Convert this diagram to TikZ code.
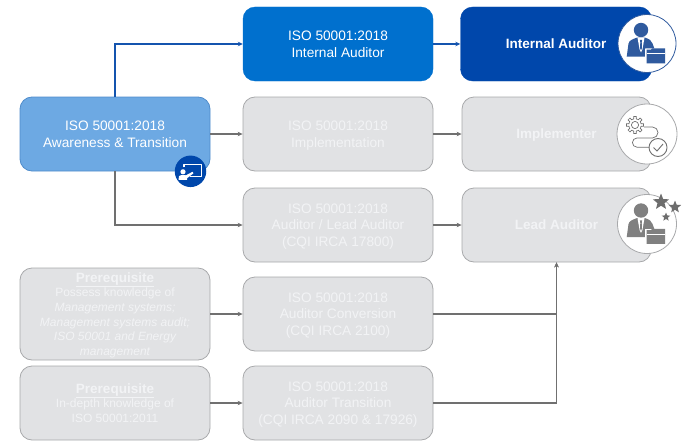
\documentclass[tikz,border=0pt]{standalone}
\usepackage{fontspec}
\setmainfont{Liberation Sans}
\usetikzlibrary{arrows.meta,shapes.geometric}
\definecolor{greyfill}{HTML}{E1E2E4}
\definecolor{greyedge}{HTML}{A8A9AB}
\definecolor{greytext}{HTML}{F2F3F5}
\definecolor{awfill}{HTML}{6DA9E3}
\definecolor{awedge}{HTML}{4F8CCB}
\definecolor{midblue}{HTML}{0070CE}
\definecolor{darkblue}{HTML}{0047AB}
\definecolor{iconblue}{HTML}{2F5A9E}
\definecolor{icongrey}{HTML}{808080}
\definecolor{linegrey}{HTML}{707070}
\definecolor{lineblue}{HTML}{1454AE}
\newcommand{\personicon}[1]{%
  \fill[#1] (-6,-13.5) circle[radius=7.2];
  \fill[#1] (-20.3,13.2) -- (-18.5,0) .. controls (-18,-3) and (-14,-4.5) .. (-10.3,-5.8)
     -- (-1.7,-5.8) .. controls (2,-4.5) and (5,-3) .. (5.5,0) -- (7.3,4.8) -- (-2,4.8) -- (-2,13.2) -- cycle;
  \fill[white] (-9.5,-5.8) -- (-2.5,-5.8) -- (-4.6,6) -- (-6,9) -- (-7.4,6) -- cycle;
  \fill[#1] (-7.1,-3.6) -- (-4.9,-3.6) -- (-5.3,-1) -- (-5,4.5) -- (-6,6.8) -- (-7,4.5) -- (-6.7,-1) -- cycle;
  \fill[#1] (-0.3,6.2) -- (4,6.2) -- (5,4.8) -- (18,4.8) -- (18,19.8) -- (-0.3,19.8) -- cycle;
  \draw[white,line width=0.9pt] (-0.3,10) -- (18,10);
  \draw[white,line width=0.9pt] (-1.3,5.2) -- (-1.3,20.5);
}
\tikzset{
  x=1pt,y=-1pt,
  basebox/.style={rectangle,rounded corners=12pt,minimum width=190pt,minimum height=74pt,inner sep=0pt,align=center,text depth=0pt,font=\fontsize{13.7}{16.6}\selectfont},
  greybox/.style={basebox,fill=greyfill,draw=greyedge,line width=0.8pt,text=greytext},
  roleg/.style={greybox,font=\bfseries\fontsize{13.5}{16}\selectfont},
  prereq/.style={greybox,font=\fontsize{12}{14.6}\selectfont},
  conn/.style={draw=linegrey,line width=1.1pt,-{Stealth[length=5pt,width=4.5pt]}},
  connb/.style={draw=lineblue,line width=1.2pt,-{Stealth[length=5pt,width=4.5pt]}},
  ring/.style={circle,fill=white,inner sep=0pt,line width=0.8pt},
  starmark/.style={star,star points=5,star point ratio=2.3,fill=icongrey!85!black,inner sep=0pt}
}
\newcommand{\prq}{{\bfseries\fontsize{13.5}{14.6}\selectfont\underline{Prerequisite}}}
\begin{document}
\begin{tikzpicture}
\useasboundingbox (0,0) rectangle (700,444);
% boxes
\node[basebox,fill=awfill,draw=awedge,line width=0.8pt,text=white] (aw) at (115,134) {ISO 50001:2018\\Awareness \& Transition};
\node[basebox,fill=midblue,draw=midblue,text=white] (ci) at (338,44) {ISO 50001:2018\\Internal Auditor};
\node[greybox] (cm) at (338,134) {ISO 50001:2018\\Implementation};
\node[greybox] (cl) at (338,225) {ISO 50001:2018\\Auditor / Lead Auditor\\(CQI IRCA 17800)};
\node[greybox] (cc) at (338,314) {ISO 50001:2018\\Auditor Conversion\\(CQI IRCA 2100)};
\node[greybox] (ct) at (338,403) {ISO 50001:2018\\Auditor Transition\\(CQI IRCA 2090 \& 17926)};
\node[prereq,minimum height=92pt] (p1) at (115,314) {\prq\\Possess knowledge of\\\itshape Management systems;\\\itshape Management systems audit;\\\itshape ISO 50001 and Energy\\\itshape management};
\node[prereq] (p2) at (115,403) {\prq\\In-depth knowledge of\\ISO 50001:2011};
\node[basebox,minimum width=191pt,fill=darkblue,draw=darkblue,text=white,font=\bfseries\fontsize{13.5}{16}\selectfont] (ri) at (556,44) {Internal Auditor};
\node[roleg,minimum width=189pt] (rm) at (556.5,134) {Implementer};
\node[roleg,minimum width=189pt] (rl) at (556.5,225) {Lead Auditor};
% connectors
\draw[connb] (aw.north) |- (ci.west);
\draw[conn] (aw.east) -- (cm.west);
\draw[conn] (aw.south) |- (cl.west);
\draw[connb] (ci.east) -- (ri.west);
\draw[conn] (cm.east) -- (rm.west);
\draw[conn] (cl.east) -- (rl.west);
\draw[conn] (p1.east) -- (cc.west);
\draw[conn] (p2.east) -- (ct.west);
\draw[conn] (cc.east) -| (rl.south);
\draw[conn] (ct.east) -| (rl.south);
% presentation badge
\node[circle,fill=darkblue,inner sep=0pt,minimum size=31.5pt] (badge) at (190.5,171.3) {};
\begin{scope}[shift={(badge.center)}]
  \draw[white,line width=1.2pt,line join=round] (-6.5,-4) -- (-6.5,-6.5) -- (11,-6.5) -- (11,5.5) -- (-0.5,5.5);
  \fill[white] (-7.5,0.5) circle[radius=2.6];
  \fill[white] (-12,8.5) -- (-11.5,5) .. controls (-11,3.5) and (-6,3.5) .. (-4.5,4) -- (2,0.5) -- (3,2) -- (-3.5,7) -- (-3.5,8.5) -- cycle;
\end{scope}
% role icons
\node[ring,draw=iconblue,minimum size=58pt] (c1) at (647,43.5) {};
\node[ring,draw=greyedge,minimum size=60pt] (c2) at (647,134) {};
\node[ring,draw=greyedge,minimum size=59pt] (c3) at (647,224) {};
\begin{scope}[shift={(c1.center)}]
  \personicon{iconblue}
\end{scope}
\begin{scope}[shift={(c3.center)}]
  \personicon{icongrey}
\end{scope}
\node[starmark,minimum size=17pt] (s1) at (661,202) {};
\node[starmark,minimum size=13pt] (s2) at (675,207) {};
\node[starmark,minimum size=9pt] (s3) at (666,217) {};
\begin{scope}[shift={(635,125)},draw=linegrey,line width=0.7pt,line join=round]
  \foreach \a in {0,45,...,315}
    \draw ({\a-22.5}:6.2) -- ({\a-12}:6.2) -- ({\a-9}:8.6) -- ({\a+9}:8.6) -- ({\a+12}:6.2) -- ({\a+22.5}:6.2);
  \draw (0,0) circle[radius=3.6];
\end{scope}
\draw[linegrey,line width=0.7pt] (644,127) -- (652.5,127) arc[start angle=-90,end angle=90,radius=5.5] -- (637,138) arc[start angle=270,end angle=90,radius=4.6] -- (649,147.2);
\draw[linegrey,line width=0.9pt] (658,147.5) circle[radius=9];
\draw[linegrey,line width=0.9pt] (653.5,147.5) -- (657,151) -- (663,144);
\end{tikzpicture}
\end{document}
